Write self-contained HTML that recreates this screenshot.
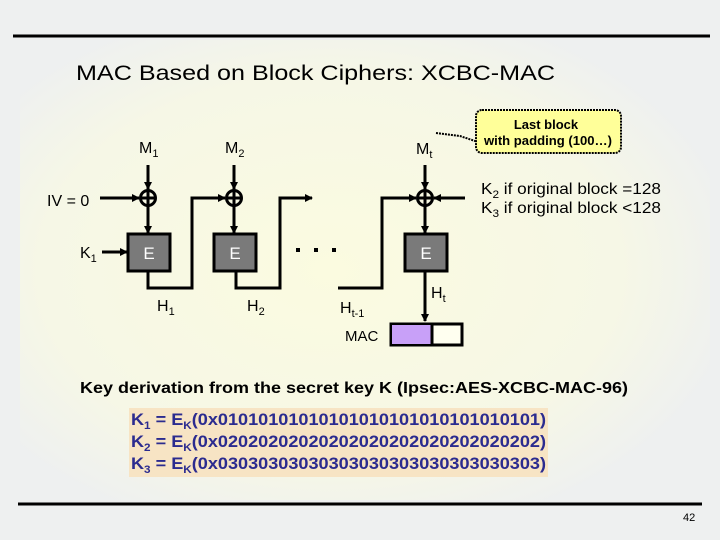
<!DOCTYPE html>
<html><head><meta charset="utf-8"><style>
html,body{margin:0;padding:0;}
body{width:720px;height:540px;overflow:hidden;background:#eef0f0;font-family:"Liberation Sans",sans-serif;}
</style></head><body>
<svg width="720" height="540" xmlns="http://www.w3.org/2000/svg" style="position:absolute;left:0;top:0">
<defs>
<radialGradient id="bg" cx="0.45" cy="0.5" r="0.6">
<stop offset="0" stop-color="#fbfbe0"/><stop offset="0.7" stop-color="#f6f7e6"/><stop offset="1" stop-color="#eef0f0"/>
</radialGradient>
<marker id="a" markerWidth="8" markerHeight="8" refX="7" refY="4" orient="auto" markerUnits="userSpaceOnUse"><path d="M0,0 L8,4 L0,8 z" fill="#000"/></marker>
</defs>
<rect x="20" y="40" width="690" height="460" fill="url(#bg)"/>
<line x1="13" y1="36" x2="710" y2="36" stroke="#000" stroke-width="3"/>
<line x1="18" y1="504" x2="702" y2="504" stroke="#000" stroke-width="3"/>
<text x="76" y="80" font-size="21" fill="#000" textLength="479" lengthAdjust="spacingAndGlyphs">MAC Based on Block Ciphers: XCBC-MAC</text>
<g font-size="16" fill="#000">
<text x="139" y="153">M<tspan font-size="11" dy="4">1</tspan></text>
<text x="225" y="153">M<tspan font-size="11" dy="4">2</tspan></text>
<text x="416" y="154">M<tspan font-size="11" dy="4">t</tspan></text>
<text x="47" y="206">IV = 0</text>
<text x="80" y="258">K<tspan font-size="11" dy="4">1</tspan></text>
<text x="157" y="311">H<tspan font-size="11" dy="4">1</tspan></text>
<text x="247" y="311">H<tspan font-size="11" dy="4">2</tspan></text>
<text x="340" y="313">H<tspan font-size="11" dy="4">t-1</tspan></text>
<text x="431" y="298">H<tspan font-size="11" dy="4">t</tspan></text>
<text x="345" y="341" font-size="15">MAC</text>
<text x="481" y="194" textLength="180" lengthAdjust="spacingAndGlyphs">K<tspan font-size="11" dy="4">2</tspan><tspan dy="-4"> if original block =128</tspan></text>
<text x="481" y="213" textLength="180" lengthAdjust="spacingAndGlyphs">K<tspan font-size="11" dy="4">3</tspan><tspan dy="-4"> if original block &lt;128</tspan></text>
</g>
<g stroke="#000" stroke-width="3" fill="none">
<line x1="148" y1="165" x2="148" y2="189" marker-end="url(#a)"/>
<line x1="234" y1="165" x2="234" y2="189" marker-end="url(#a)"/>
<line x1="425" y1="165" x2="425" y2="189" marker-end="url(#a)"/>
<line x1="100" y1="198" x2="139" y2="198" marker-end="url(#a)"/>
<line x1="102" y1="252" x2="127" y2="252" marker-end="url(#a)"/>
<line x1="148" y1="206" x2="148" y2="233" marker-end="url(#a)"/>
<line x1="234" y1="206" x2="234" y2="233" marker-end="url(#a)"/>
<line x1="425" y1="206" x2="425" y2="233" marker-end="url(#a)"/>
<polyline points="148,271 148,288 192,288 192,198 225,198" marker-end="url(#a)"/>
<polyline points="236,271 236,288 280,288 280,198 312,198" marker-end="url(#a)"/>
<polyline points="338,288 382,288 382,198 416,198" marker-end="url(#a)"/>
<line x1="465" y1="198" x2="434" y2="198" marker-end="url(#a)"/>
<line x1="425" y1="271" x2="425" y2="321" marker-end="url(#a)"/>
<circle cx="148" cy="198" r="7.5"/><line x1="140" y1="198" x2="156" y2="198"/><line x1="148" y1="190" x2="148" y2="206"/>
<circle cx="234" cy="198" r="7.5"/><line x1="226" y1="198" x2="242" y2="198"/><line x1="234" y1="190" x2="234" y2="206"/>
<circle cx="425" cy="198" r="7.5"/><line x1="417" y1="198" x2="433" y2="198"/><line x1="425" y1="190" x2="425" y2="206"/>
</g>
<g stroke="#000" stroke-width="3" fill="#7a7a7a">
<rect x="128" y="234" width="42" height="37"/>
<rect x="214" y="234" width="42" height="37"/>
<rect x="405" y="234" width="42" height="37"/>
</g>
<g fill="#fff" font-size="17" text-anchor="middle">
<text x="149" y="259">E</text><text x="235" y="259">E</text><text x="426" y="259">E</text>
</g>
<g fill="#000"><rect x="296" y="248" width="4" height="4"/><rect x="314" y="248" width="4" height="4"/><rect x="332" y="248" width="4" height="4"/></g>
<rect x="391" y="324" width="71" height="21" fill="#fffff0" stroke="#000" stroke-width="3"/>
<rect x="392" y="325" width="40" height="19" fill="#c8a0f8"/>
<line x1="432" y1="324" x2="432" y2="345" stroke="#000" stroke-width="3"/>
<path d="M436,133 L460,136 L478,142" fill="none" stroke="#000" stroke-width="2" stroke-dasharray="2,1"/>
<rect x="476" y="110" width="145" height="43" rx="6" fill="#ffff99" stroke="#000" stroke-width="2" stroke-dasharray="2,1"/>
<g font-size="13" font-weight="bold" text-anchor="middle" fill="#000">
<text x="546" y="129">Last block</text><text x="548" y="145" textLength="128" lengthAdjust="spacingAndGlyphs">with padding (100…)</text>
</g>
<text x="80" y="393" font-size="16" font-weight="bold" fill="#000" textLength="548" lengthAdjust="spacingAndGlyphs">Key derivation from the secret key K (Ipsec:AES-XCBC-MAC-96)</text>
<rect x="129" y="408" width="419" height="69" fill="#f7e4c4"/>
<g font-size="17" font-weight="bold" fill="#2b2b8f">
<text x="131" y="425" textLength="415" lengthAdjust="spacingAndGlyphs">K<tspan font-size="11" dy="4">1</tspan><tspan dy="-4"> = E</tspan><tspan font-size="11" dy="4">K</tspan><tspan dy="-4">(0x01010101010101010101010101010101)</tspan></text>
<text x="131" y="447" textLength="415" lengthAdjust="spacingAndGlyphs">K<tspan font-size="11" dy="4">2</tspan><tspan dy="-4"> = E</tspan><tspan font-size="11" dy="4">K</tspan><tspan dy="-4">(0x02020202020202020202020202020202)</tspan></text>
<text x="131" y="469" textLength="415" lengthAdjust="spacingAndGlyphs">K<tspan font-size="11" dy="4">3</tspan><tspan dy="-4"> = E</tspan><tspan font-size="11" dy="4">K</tspan><tspan dy="-4">(0x03030303030303030303030303030303)</tspan></text>
</g>
<text x="683" y="521" font-size="11" fill="#000">42</text>
</svg>
</body></html>
